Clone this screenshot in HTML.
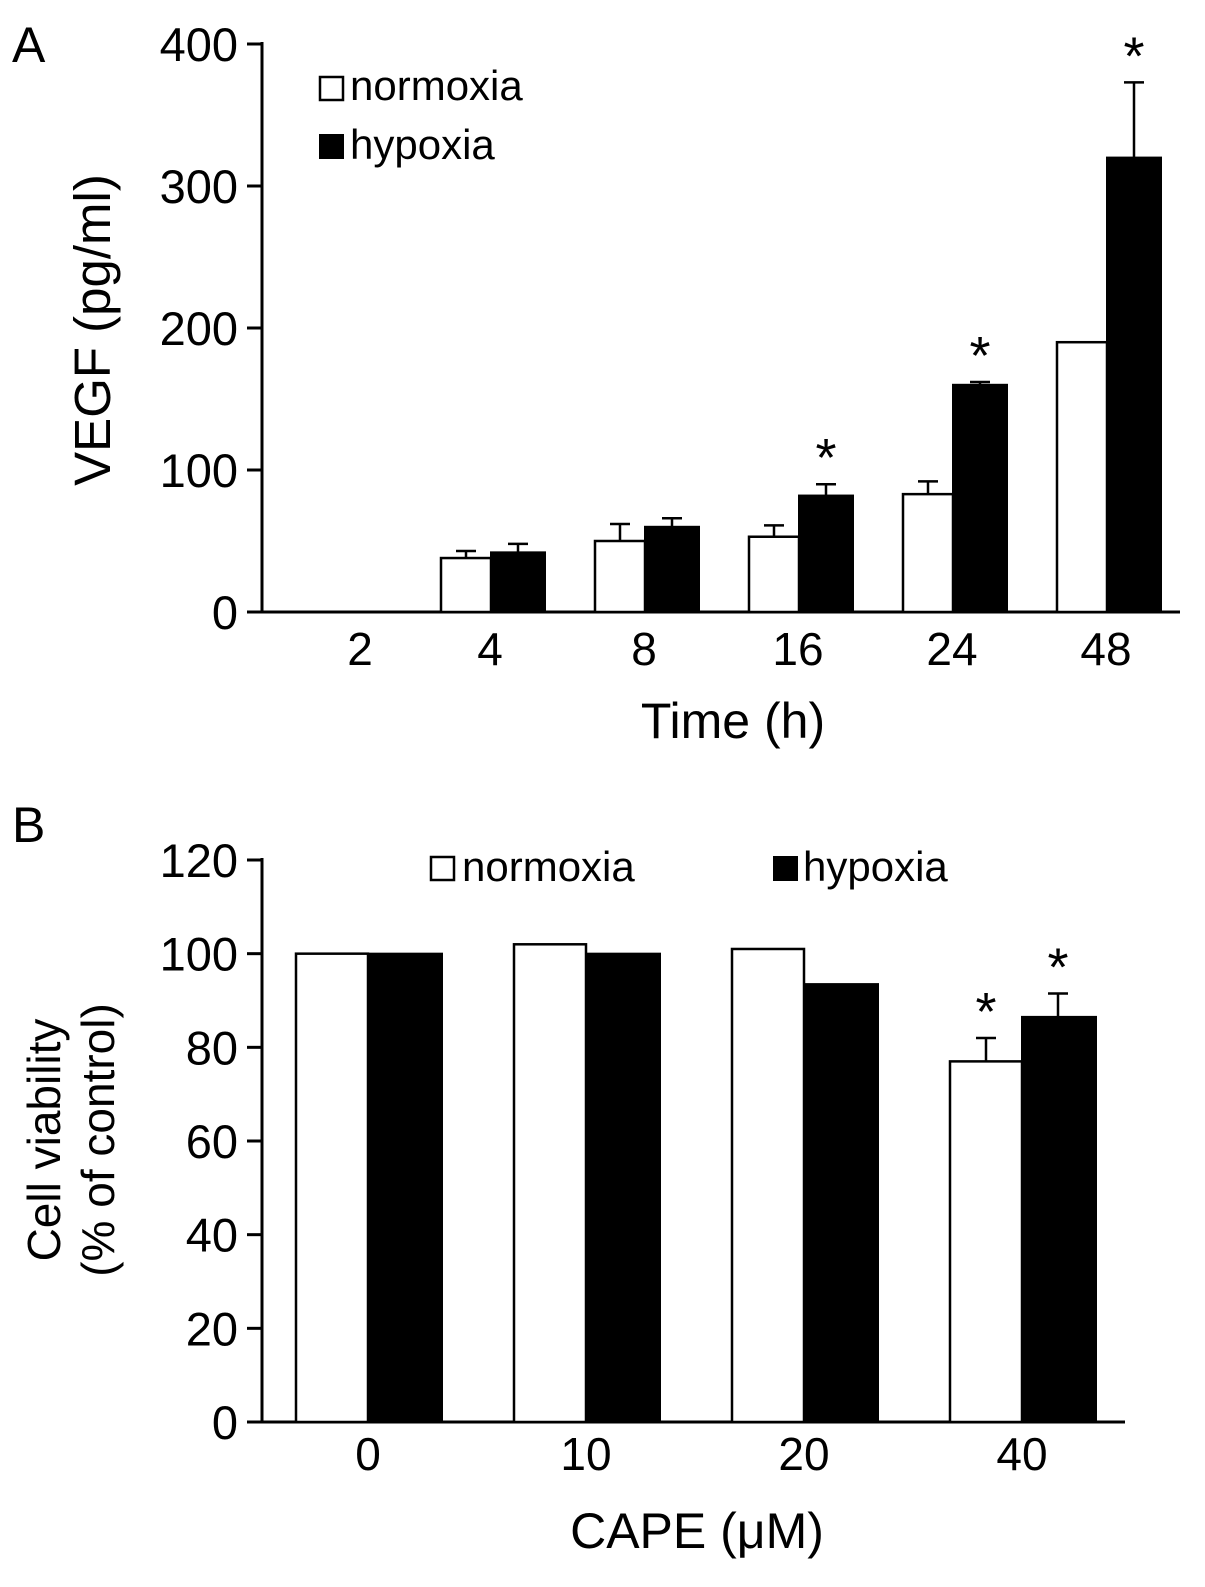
<!DOCTYPE html>
<html><head><meta charset="utf-8"><style>
body{margin:0;background:#fff;}
svg text{font-family:"Liberation Sans",Arial,sans-serif;fill:#000;}
</style></head><body>
<svg id="chart" width="1205" height="1582" xmlns="http://www.w3.org/2000/svg"></svg>
<script>
const catsA=["2","4","8","16","24","48"];
const normA=[0,38,50,53,83,190];
const normAErr=[0,5,12,8,9,0];
const hypA=[0,42,60,82,160,320];
const hypAErr=[0,6,6,8,2,53];
const starA=[false,false,false,true,true,true];
const ticksA=[0,100,200,300,400];

const catsB=["0","10","20","40"];
const normB=[100,102,101,77];
const normBErr=[0.3,0.3,0.3,5];
const hypB=[100,100,93.5,86.5];
const hypBErr=[0,0,0,5];
const starNB=[false,false,false,true];
const starHB=[false,false,false,true];
const ticksB=[0,20,40,60,80,100,120];

const svg=document.getElementById('chart');
const NS='http://www.w3.org/2000/svg';
function mk(tag,attrs,parent){const e=document.createElementNS(NS,tag);for(const k in attrs)e.setAttribute(k,attrs[k]);(parent||svg).appendChild(e);return e;}
function txt(s,attrs){const t=mk('text',attrs);t.textContent=s;return t;}

// Panel A
const yA=v=>612-v*(612-44)/400;
const axA=mk('g',{});

mk('line',{x1:262,y1:42,x2:262,y2:613,stroke:'#000','stroke-width':3},axA);
mk('line',{x1:247,y1:612,x2:1180,y2:612,stroke:'#000','stroke-width':3},axA);
ticksA.forEach(t=>{
 mk('line',{x1:247,y1:yA(t),x2:262,y2:yA(t),stroke:'#000','stroke-width':3},axA);
 const l=txt(String(t),{x:238,y:yA(t)+17,'font-size':47,'text-anchor':'end'});
 
});
catsA.forEach((c,i)=>{
 const gx=i==0?360:(438+(i-1)*154)+52;
 const l=txt(c,{x:gx,y:665,'font-size':46,'text-anchor':'middle'});
 
 if(i==0)return;
 const left=438+(i-1)*154+3;
 const bw=50;
 if(normAErr[i]>0){mk('line',{x1:left+25,y1:yA(normA[i]),x2:left+25,y2:yA(normA[i]+normAErr[i]),stroke:'#000','stroke-width':2.5});mk('line',{x1:left+15,y1:yA(normA[i]+normAErr[i]),x2:left+35,y2:yA(normA[i]+normAErr[i]),stroke:'#000','stroke-width':2.5});}
 if(hypAErr[i]>0){mk('line',{x1:left+bw+27,y1:yA(hypA[i]),x2:left+bw+27,y2:yA(hypA[i]+hypAErr[i]),stroke:'#000','stroke-width':2.5});mk('line',{x1:left+bw+17,y1:yA(hypA[i]+hypAErr[i]),x2:left+bw+37,y2:yA(hypA[i]+hypAErr[i]),stroke:'#000','stroke-width':2.5});}
 const r1=mk('rect',{x:left,y:yA(normA[i]),width:bw,height:612-yA(normA[i]),fill:'#fff',stroke:'#000','stroke-width':2.5});
 
 const r2=mk('rect',{x:left+bw,y:yA(hypA[i]),width:54,height:612-yA(hypA[i]),fill:'#000',stroke:'#000','stroke-width':2});
 
 if(starA[i]){const s=txt('*',{x:left+bw+27,y:yA(hypA[i]+hypAErr[i])-8,'font-size':54,'text-anchor':'middle'});
 }
});
let t;
t=txt('A',{x:12,y:62,'font-size':50});
t=txt('Time (h)',{x:733,y:738,'font-size':50,'text-anchor':'middle'});
t=txt('VEGF (pg/ml)',{x:0,y:0,'font-size':51,'text-anchor':'middle',transform:'translate(110,330) rotate(-90)'});
let r;
r=mk('rect',{x:320,y:77,width:23,height:23,fill:'#fff',stroke:'#000','stroke-width':2.5});
t=txt('normoxia',{x:350,y:100,'font-size':42});
r=mk('rect',{x:319,y:134,width:25,height:25,fill:'#000'});
t=txt('hypoxia',{x:350,y:159,'font-size':42});

// Panel B
const yB=v=>1422-v*(1422-860)/120;
const axB=mk('g',{});

mk('line',{x1:262,y1:858,x2:262,y2:1423,stroke:'#000','stroke-width':3},axB);
mk('line',{x1:247,y1:1422,x2:1125,y2:1422,stroke:'#000','stroke-width':3},axB);
ticksB.forEach(v=>{
 mk('line',{x1:247,y1:yB(v),x2:262,y2:yB(v),stroke:'#000','stroke-width':3},axB);
 const l=txt(String(v),{x:238,y:yB(v)+17,'font-size':47,'text-anchor':'end'});
 
});
catsB.forEach((c,i)=>{
 const left=296+i*218;
 const bw=72;
 const l=txt(c,{x:left+bw,y:1470,'font-size':46,'text-anchor':'middle'});
 
 if(normBErr[i]>0.5){mk('line',{x1:left+36,y1:yB(normB[i]),x2:left+36,y2:yB(normB[i]+normBErr[i]),stroke:'#000','stroke-width':2.5});mk('line',{x1:left+26,y1:yB(normB[i]+normBErr[i]),x2:left+46,y2:yB(normB[i]+normBErr[i]),stroke:'#000','stroke-width':2.5});}
 if(hypBErr[i]>0.5){mk('line',{x1:left+bw+36,y1:yB(hypB[i]),x2:left+bw+36,y2:yB(hypB[i]+hypBErr[i]),stroke:'#000','stroke-width':2.5});mk('line',{x1:left+bw+26,y1:yB(hypB[i]+hypBErr[i]),x2:left+bw+46,y2:yB(hypB[i]+hypBErr[i]),stroke:'#000','stroke-width':2.5});}
 const r1=mk('rect',{x:left,y:yB(normB[i]),width:bw,height:1422-yB(normB[i]),fill:'#fff',stroke:'#000','stroke-width':2.5});
 
 const r2=mk('rect',{x:left+bw,y:yB(hypB[i]),width:74,height:1422-yB(hypB[i]),fill:'#000',stroke:'#000','stroke-width':2});
 
 if(starNB[i]){const s=txt('*',{x:left+36,y:yB(normB[i]+normBErr[i])-8,'font-size':54,'text-anchor':'middle'});}
 if(starHB[i]){const s=txt('*',{x:left+bw+36,y:yB(hypB[i]+hypBErr[i])-8,'font-size':54,'text-anchor':'middle'});}
});
t=txt('B',{x:12,y:842,'font-size':50});
t=txt('CAPE (\u03bcM)',{x:697,y:1548,'font-size':50,'text-anchor':'middle'});
t=txt('Cell viability',{x:0,y:0,'font-size':46,'text-anchor':'middle',transform:'translate(60,1140) rotate(-90)'});
t=txt('(% of control)',{x:0,y:0,'font-size':46,'text-anchor':'middle',transform:'translate(114,1140) rotate(-90)'});
r=mk('rect',{x:431,y:857,width:23,height:23,fill:'#fff',stroke:'#000','stroke-width':2.5});
t=txt('normoxia',{x:462,y:881,'font-size':42});
r=mk('rect',{x:773,y:856,width:25,height:25,fill:'#000'});
t=txt('hypoxia',{x:803,y:881,'font-size':42});
</script>
</body></html>
